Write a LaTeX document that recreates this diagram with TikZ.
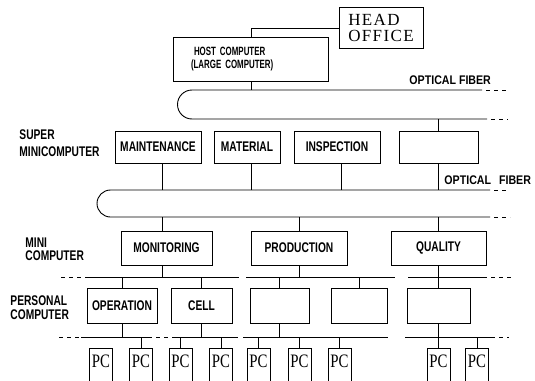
\documentclass[tikz,border=0pt]{standalone}
\usepackage{fontspec}
\newfontfamily\labfont[FakeStretch=0.73]{Liberation Sans}
\newfontfamily\hostfont[FakeStretch=0.66]{Liberation Sans}
\newfontfamily\wlabfont[FakeStretch=0.85]{Liberation Sans}
\newfontfamily\headfont[LetterSpace=8]{Liberation Serif}
\newfontfamily\pcfont[FakeStretch=0.78]{Liberation Serif}
\begin{document}
\begin{tikzpicture}[x=1pt,y=-1pt,line width=0.9pt,
  nbox/.style={draw,inner sep=0pt,font=\labfont\bfseries\fontsize{14}{15}\selectfont},
  lbl/.style={inner sep=0pt,anchor=west,align=left},
  fib/.style={inner sep=0pt,anchor=west,font=\wlabfont\bfseries\fontsize{12.5}{13}\selectfont},
  pcbox/.style={draw,inner xsep=0pt,inner ysep=0pt,minimum width=23pt,anchor=north,
    text height=19pt,text depth=30pt,font=\pcfont\fontsize{19}{19}\selectfont},
  endd/.style={dash pattern=on 4pt off 4pt,dash phase=4pt}]
\useasboundingbox (0,0) rectangle (535,380);
\clip (0,0) rectangle (535,380);
% top
\node[draw,inner sep=0pt,minimum width=84pt,minimum height=41pt,align=left,
  font=\headfont\fontsize{17}{16}\selectfont] (head) at (381,27.5) {HEAD\\OFFICE};
\node[draw,inner ysep=0pt,inner xsep=0pt,text width=155pt,minimum height=44pt,align=left,
  font=\hostfont\bfseries\fontsize{12}{13}\selectfont] (host) at (250.5,59)
  {\hspace*{21pt}HOST COMPUTER\\\hspace*{18pt}(LARGE COMPUTER)};
\coordinate (hc) at (251,28);
\draw (head.west |- hc) -- (hc) -- (hc |- host.north);
\node[fib] (of1) at (409,80) {OPTICAL FIBER};
% loop 1
\coordinate (L1t) at (0,90);
\coordinate (L1b) at (0,119);
\draw (482,90) -- (192,90) arc[start angle=270,end angle=90,radius=14.5] -- (487,119);
\draw[endd] (482,90) -- (508,90);
\draw[endd] (487,119) -- (508,119);
\draw (hc |- host.south) -- (hc |- L1t);
% super minicomputers
\node[lbl,font=\labfont\bfseries\fontsize{14}{17}\selectfont] (lsup) at (19,143.5) {SUPER\\MINICOMPUTER};
\node[nbox,minimum width=86pt,minimum height=32pt] (maint) at (158,147) {MAINTENANCE};
\node[nbox,minimum width=66pt,minimum height=32pt] (mat) at (247,147) {MATERIAL};
\node[nbox,minimum width=86pt,minimum height=32pt] (insp) at (337,147) {INSPECTION};
\node[nbox,minimum width=79pt,minimum height=32pt] (bs) at (438.5,147) {};
\draw (bs.north |- L1b) -- (bs.north);
\node[fib] (of2) at (444,180) {OPTICAL\hspace{8pt}FIBER};
% loop 2
\coordinate (L2t) at (0,190);
\coordinate (L2b) at (0,217);
\draw (490,190) -- (110.5,190) arc[start angle=270,end angle=90,radius=13.5] -- (490,217);
\draw[endd] (490,190) -- (508,190);
\draw[endd] (490,217) -- (510,217);
\coordinate (cA) at (162,0);
\coordinate (cM) at (251,0);
\coordinate (cI) at (341,0);
\draw (cA |- maint.south) -- (cA |- L2t);
\draw (cM |- mat.south) -- (cM |- L2t);
\draw (cI |- insp.south) -- (cI |- L2t);
\draw (bs.south) -- (bs.south |- L2t);
% mini computers
\node[lbl,font=\labfont\bfseries\fontsize{14}{13}\selectfont] (lmini) at (25,249) {MINI\\COMPUTER};
\node[nbox,minimum width=91pt,minimum height=34pt] (mon) at (166.5,248) {MONITORING};
\node[nbox,minimum width=96pt,minimum height=34pt] (prod) at (299,248) {PRODUCTION};
\node[nbox,minimum width=95pt,minimum height=34pt] (qual) at (438.5,248) {QUALITY};
\draw (cA |- L2b) -- (cA |- mon.north);
\draw (prod.north |- L2b) -- (prod.north);
\draw (qual.north |- L2b) -- (qual.north);
% bus 1
\coordinate (B1) at (0,277);
\draw[endd] (57,277) -- (87,277);
\draw (87,277) -- (239,277);
\draw (246,277) -- (395,277);
\draw (408,277) -- (487,277);
\draw[endd] (487,277) -- (511,277);
\draw (cA |- mon.south) -- (cA |- B1);
\draw (prod.south) -- (prod.south |- B1);
\draw (qual.south) -- (qual.south |- B1);
% personal computers
\node[lbl,font=\labfont\bfseries\fontsize{14}{13.5}\selectfont] (lpers) at (10,307.5) {PERSONAL\\COMPUTER};
\node[nbox,minimum width=70pt,minimum height=35pt] (oper) at (122,305.5) {OPERATION};
\node[nbox,minimum width=61pt,minimum height=35pt] (cell) at (201.5,305.5) {CELL};
\node[nbox,minimum width=59pt,minimum height=35pt] (b1) at (279.5,305.5) {};
\node[nbox,minimum width=56pt,minimum height=35pt] (b2) at (359,305.5) {};
\node[nbox,minimum width=63pt,minimum height=35pt] (b3) at (438.5,305.5) {};
\foreach \n in {oper,cell,b1,b2,b3} \draw (\n.north |- B1) -- (\n.north);
% bus 2
\coordinate (B2) at (0,337);
\draw[endd] (55,337) -- (81,337);
\draw (81,337) -- (152,337);
\draw[endd] (152,337) -- (172,337);
\draw (172,337) -- (238,337);
\draw (243,337) -- (388,337);
\draw (405,337) -- (495,337);
\draw[endd] (495,337) -- (509,337);
\foreach \n in {oper,cell,b1,b3} \draw (\n.south) -- (\n.south |- B2);
% PCs
\node[pcbox] (pc1) at (101,348) {PC};
\node[pcbox] (pc2) at (141,348) {PC};
\node[pcbox] (pc3) at (180.5,348) {PC};
\node[pcbox] (pc4) at (221,348) {PC};
\node[pcbox] (pc5) at (258.5,348) {PC};
\node[pcbox] (pc6) at (299.5,348) {PC};
\node[pcbox] (pc7) at (339.5,348) {PC};
\node[pcbox] (pc8) at (438.5,348) {PC};
\node[pcbox] (pc9) at (477,348) {PC};
\foreach \n in {pc2,pc3,pc4,pc5,pc6,pc7,pc8,pc9} \draw (\n.north |- B2) -- (\n.north);
\end{tikzpicture}
\end{document}
